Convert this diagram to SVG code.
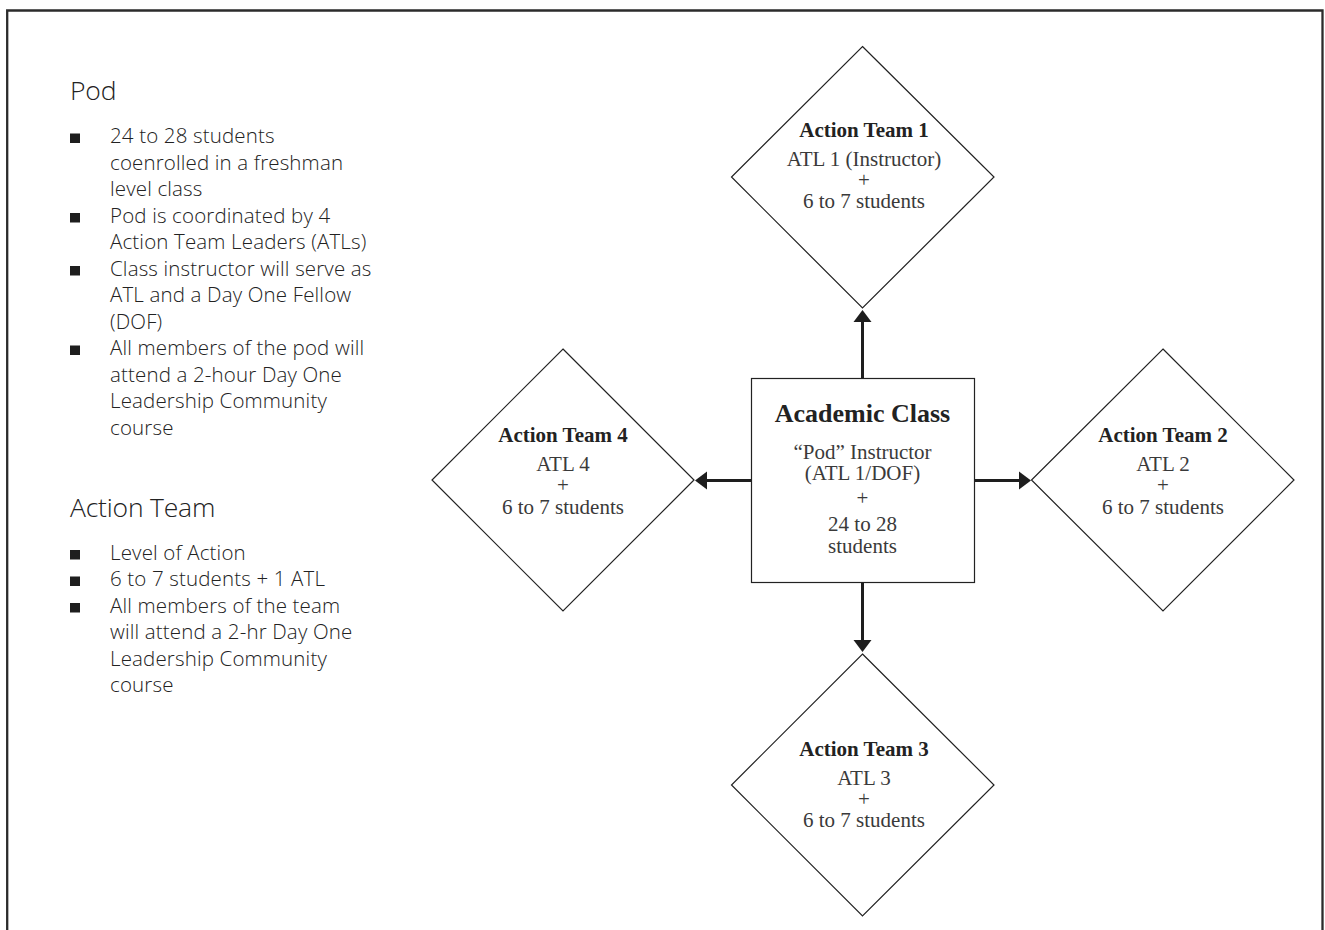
<svg xmlns="http://www.w3.org/2000/svg" width="1325" height="930" viewBox="0 0 1325 930">
<style>
  .frame { fill: none; stroke: #2b2b2b; stroke-width: 2.3; }
  .sans { font-family: "Open Sans", "Liberation Sans", sans-serif; font-weight: 300; fill: #222; }
  .head { font-size: 26.5px; letter-spacing: -0.2px; }
  .item { font-size: 20.5px; letter-spacing: 0.15px; }
  .bullet { fill: #1e1e1e; }
  .shape { fill: #fff; stroke: #222; stroke-width: 1.2; }
  .serif { font-family: "Liberation Serif", "Times New Roman", serif; text-anchor: middle; }
  .title { font-size: 21px; font-weight: bold; fill: #222; }
  .body { font-size: 21px; fill: #3a3a3a; }
  .big { font-size: 26px; font-weight: bold; fill: #222; }
  .conn { stroke: #1e1e1e; stroke-width: 3; fill: none; marker-end: url(#arrow); }
</style>
<defs>
  <marker id="arrow" markerUnits="userSpaceOnUse" markerWidth="12" markerHeight="18" refX="0" refY="9" orient="auto" overflow="visible">
    <path d="M0,0 L12,9 L0,18 Z" fill="#1e1e1e"/>
  </marker>
</defs>
<rect width="1325" height="930" fill="#fff"/>
<path class="frame" d="M7.2,935 V10.5 H1322.5 V935"/>

<g id="legend">
  <g id="legend-pod">
    <text class="sans head" x="70" y="100">Pod</text>
    <rect class="bullet" x="70" y="133.5" width="10" height="9.5"/>
    <text class="sans item" x="110" y="143">24 to 28 students</text>
    <text class="sans item" x="110" y="169.5">coenrolled in a freshman</text>
    <text class="sans item" x="110" y="196">level class</text>
    <rect class="bullet" x="70" y="213" width="10" height="9.5"/>
    <text class="sans item" x="110" y="222.5">Pod is coordinated by 4</text>
    <text class="sans item" x="110" y="249">Action Team Leaders (ATLs)</text>
    <rect class="bullet" x="70" y="266" width="10" height="9.5"/>
    <text class="sans item" x="110" y="275.5">Class instructor will serve as</text>
    <text class="sans item" x="110" y="302">ATL and a Day One Fellow</text>
    <text class="sans item" x="110" y="328.5">(DOF)</text>
    <rect class="bullet" x="70" y="345.5" width="10" height="9.5"/>
    <text class="sans item" x="110" y="355">All members of the pod will</text>
    <text class="sans item" x="110" y="381.5">attend a 2-hour Day One</text>
    <text class="sans item" x="110" y="408">Leadership Community</text>
    <text class="sans item" x="110" y="434.5">course</text>
  </g>
  <g id="legend-team">
    <text class="sans head" x="70" y="516.5">Action Team</text>
    <rect class="bullet" x="70" y="550" width="10" height="9.5"/>
    <text class="sans item" x="110" y="559.5">Level of Action</text>
    <rect class="bullet" x="70" y="576.5" width="10" height="9.5"/>
    <text class="sans item" x="110" y="586">6 to 7 students + 1 ATL</text>
    <rect class="bullet" x="70" y="603" width="10" height="9.5"/>
    <text class="sans item" x="110" y="612.5">All members of the team</text>
    <text class="sans item" x="110" y="639">will attend a 2-hr Day One</text>
    <text class="sans item" x="110" y="665.5">Leadership Community</text>
    <text class="sans item" x="110" y="692">course</text>
  </g>
</g>

<g id="connectors">
  <line class="conn" x1="862.5" y1="378" x2="862.5" y2="322"/>
  <line class="conn" x1="862.5" y1="582" x2="862.5" y2="640"/>
  <line class="conn" x1="751" y1="480.5" x2="707" y2="480.5"/>
  <line class="conn" x1="974" y1="480.5" x2="1019" y2="480.5"/>
</g>

<g id="academic-class">
  <rect class="shape" x="751.5" y="378.5" width="223" height="204"/>
  <text class="serif big" x="862.5" y="421.5">Academic Class</text>
  <text class="serif body" x="862.5" y="458.5">“Pod” Instructor</text>
  <text class="serif body" x="862.5" y="480">(ATL 1/DOF)</text>
  <text class="serif body" x="862.5" y="505">+</text>
  <text class="serif body" x="862.5" y="531">24 to 28</text>
  <text class="serif body" x="862.5" y="552.5">students</text>
</g>

<g id="action-team-1">
  <polygon class="shape" points="862.5,46.5 994,177 862.5,308 731.5,177"/>
  <text class="serif title" x="864" y="137">Action Team 1</text>
  <text class="serif body" x="864" y="166">ATL 1 (Instructor)</text>
  <text class="serif body" x="864" y="187">+</text>
  <text class="serif body" x="864" y="207.5">6 to 7 students</text>
</g>

<g id="action-team-2">
  <polygon class="shape" points="1163,349 1294,480 1163,611 1031.5,480"/>
  <text class="serif title" x="1163" y="441.5">Action Team 2</text>
  <text class="serif body" x="1163" y="471">ATL 2</text>
  <text class="serif body" x="1163" y="492">+</text>
  <text class="serif body" x="1163" y="514">6 to 7 students</text>
</g>

<g id="action-team-3">
  <polygon class="shape" points="862.5,654 994,785 862.5,916 731.5,785"/>
  <text class="serif title" x="864" y="755.5">Action Team 3</text>
  <text class="serif body" x="864" y="784.5">ATL 3</text>
  <text class="serif body" x="864" y="806">+</text>
  <text class="serif body" x="864" y="827">6 to 7 students</text>
</g>

<g id="action-team-4">
  <polygon class="shape" points="563,349 694,480 563,611 432,480"/>
  <text class="serif title" x="563" y="441.5">Action Team 4</text>
  <text class="serif body" x="563" y="471">ATL 4</text>
  <text class="serif body" x="563" y="492">+</text>
  <text class="serif body" x="563" y="514">6 to 7 students</text>
</g>
</svg>
